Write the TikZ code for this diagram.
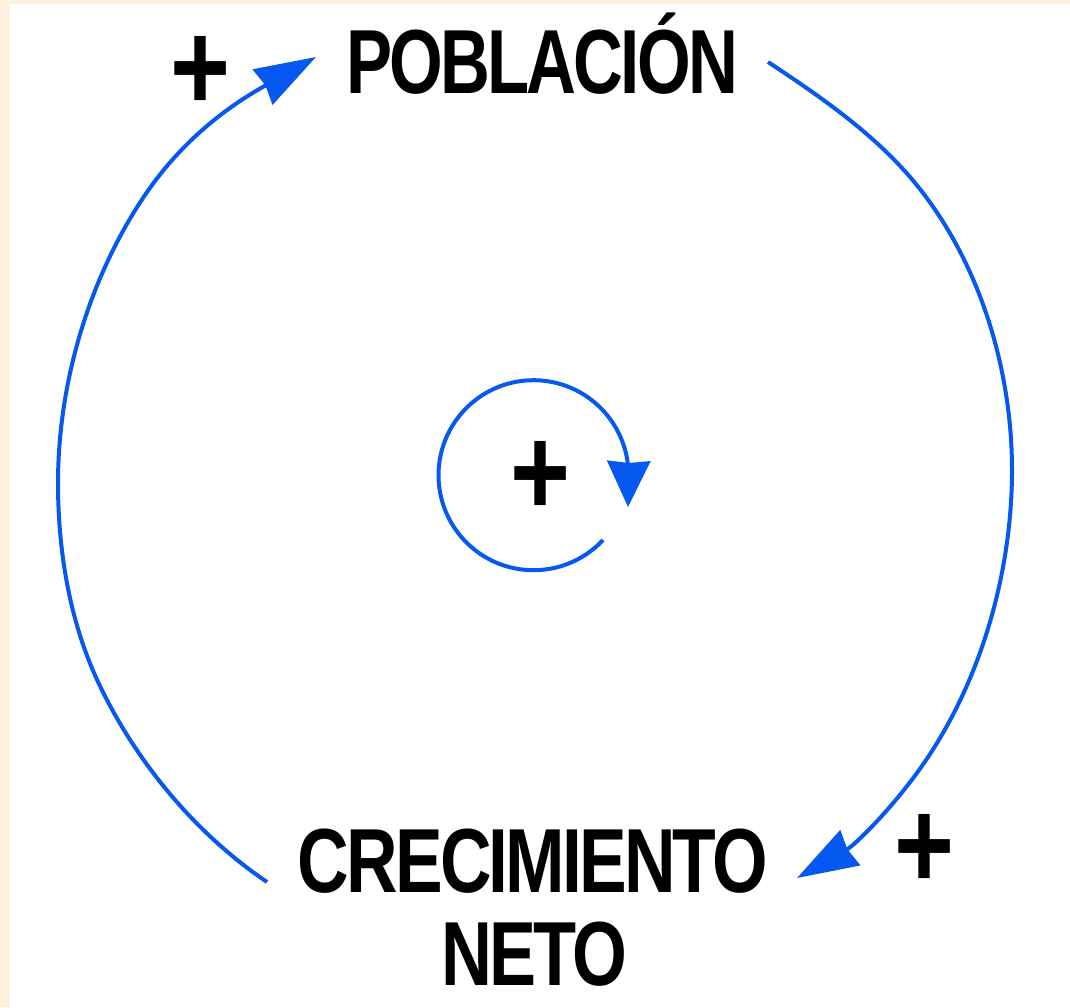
\documentclass[tikz,border=0pt]{standalone}
\usepackage{fontspec}
\setmainfont[LetterSpace=-4]{Liberation Sans}
\usetikzlibrary{arrows.meta}
\definecolor{paper}{HTML}{FBF1DC}
\definecolor{loopblue}{HTML}{0558F0}
\tikzset{
  x=1pt,y=-1pt,
  loopline/.style={draw=loopblue,line width=4pt},
  bighead/.style={-{Stealth[length=61pt,width=40pt,inset=3pt,fill=loopblue]}},
  smallhead/.style={-{Stealth[length=46pt,width=43pt,inset=2pt,fill=loopblue]}},
  word/.style={inner sep=0pt,anchor=base,font=\fontsize{91}{91}\bfseries\selectfont},
  sign/.style={inner sep=0pt,font=\bfseries},
}
\newcommand{\widthto}[2]{\resizebox{#1pt}{\height}{#2}}
\newcommand{\plussign}{\resizebox{60pt}{74pt}{+}}
\begin{document}
\begin{tikzpicture}
\useasboundingbox (0,0) rectangle (1070,1007);
\fill[paper] (0,0) rectangle (1070,1007);
\fill[white] (10,4) rectangle (1070,1007);
\node[word] (pob) at (542,93) {\widthto{392}{POBLACIÓN}};
\node[word] (crec) at (533,892) {\widthto{470}{CRECIMIENTO}};
\node[word] (neto) at (534,985) {\widthto{186}{NETO}};
\node[sign] (p1) at (200,73) {\plussign};
\node[sign] (p2) at (540,478) {\plussign};
\node[sign] (p3) at (924,851) {\plussign};
\coordinate (a0) at (267,882);
\coordinate (a1) at (100,686);
\coordinate (a2) at (58,483);
\coordinate (a3) at (143,198);
\coordinate (a4) at (316,57);
\coordinate (b0) at (768,62);
\coordinate (b1) at (923,193);
\coordinate (b2) at (1012,470);
\coordinate (b3) at (940,738);
\coordinate (b4) at (797,878);
\coordinate (c1) at (603,540);
\coordinate (c3) at (628,507);
\draw[loopline,bighead] (a0) .. controls (196,834) and (137,763) .. (a1)
  .. controls (70,624) and (58,552) .. (a2)
  .. controls (58,384) and (88.5,280) .. (a3)
  .. controls (188,130) and (245,97) .. (a4);
\draw[loopline,bighead] (b0) .. controls (824,99) and (882,139) .. (b1)
  .. controls (982,270) and (1012,373) .. (b2)
  .. controls (1012,562) and (987,659) .. (b3)
  .. controls (906,796) and (855,845) .. (b4);
\draw[loopline,smallhead] (c1) arc[start angle=43,end angle=360,radius=95] -- (c3);
\end{tikzpicture}
\end{document}
